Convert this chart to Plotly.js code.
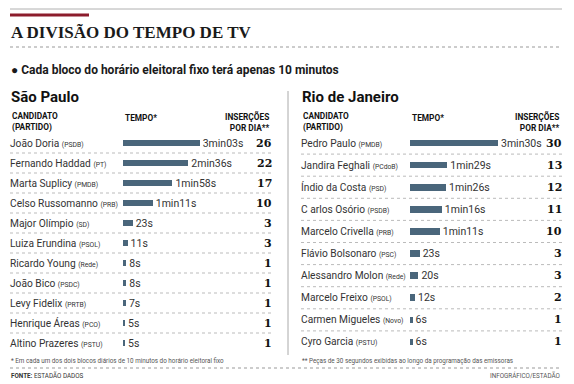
<!DOCTYPE html>
<html><head><meta charset="utf-8">
<script src="https://cdn.plot.ly/plotly-3.0.1.min.js"></script>
<style>html,body{margin:0;padding:0;background:#fff}</style>
</head><body><div id="chart" style="width:574px;height:384px"></div>
<script>
// ---- data ----
const spNames   = ["João Doria","Fernando Haddad","Marta Suplicy","Celso Russomanno","Major Olímpio","Luiza Erundina","Ricardo Young","João Bico","Levy Fidelix","Henrique Áreas","Altino Prazeres"];
const spParties = ["PSDB","PT","PMDB","PRB","SD","PSOL","Rede","PSDC","PRTB","PCO","PSTU"];
const spSeconds = [183,156,118,71,23,11,8,8,7,5,5];
const spTimes   = ["3min03s","2min36s","1min58s","1min11s","23s","11s","8s","8s","7s","5s","5s"];
const spInserts = [26,22,17,10,3,3,1,1,1,1,1];

const rjNames   = ["Pedro Paulo","Jandira Feghali","Índio da Costa","C arlos Osório","Marcelo Crivella","Flávio Bolsonaro","Alessandro Molon","Marcelo Freixo","Carmen Migueles","Cyro Garcia"];
const rjParties = ["PMDB","PCdoB","PSD","PSDB","PRB","PSC","Rede","PSOL","Novo","PSTU"];
const rjSeconds = [210,89,86,76,71,23,20,12,6,6];
const rjTimes   = ["3min30s","1min29s","1min26s","1min16s","1min11s","23s","20s","12s","6s","6s"];
const rjInserts = [30,13,12,11,10,3,3,2,1,1];

// ---- helpers ----
const W = 574, H = 384;
const px = x => x / W;
const py = y => 1 - y / H;
const BAR = "#4a667b";
const SANS = "Roboto, 'Open Sans', sans-serif";
const NUMF = "'DejaVu Serif', serif";

const traces = [
  {type:"bar", orientation:"h", y:spNames, x:spSeconds, xaxis:"x", yaxis:"y",
   marker:{color:BAR}, width:0.33, text:spTimes, textposition:"outside",
   constraintext:"none", cliponaxis:false, textfont:{family:SANS,size:10.5,color:"#333"},
   hoverinfo:"none"},
  {type:"bar", orientation:"h", y:rjNames, x:rjSeconds, xaxis:"x2", yaxis:"y2",
   marker:{color:BAR}, width:0.3, text:rjTimes, textposition:"outside",
   constraintext:"none", cliponaxis:false, textfont:{family:SANS,size:10.5,color:"#333"},
   hoverinfo:"none"}
];

const hid = {showgrid:false, zeroline:false, showticklabels:false, showline:false, ticks:"", fixedrange:true};
const layout = {
  width:W, height:H, margin:{l:0,r:0,t:0,b:0}, paper_bgcolor:"#fff", plot_bgcolor:"rgba(0,0,0,0)",
  showlegend:false, bargap:0,
  xaxis: Object.assign({domain:[px(123),px(273)], range:[0,358], anchor:"y"}, hid),
  yaxis: Object.assign({domain:[py(353),py(133)], type:"category", categoryarray:spNames, range:[10.5,-0.5], anchor:"x"}, hid),
  xaxis2: Object.assign({domain:[px(410),px(560)], range:[0,358], anchor:"y2"}, hid),
  yaxis2: Object.assign({domain:[py(353),py(132)], type:"category", categoryarray:rjNames, range:[9.5,-0.5], anchor:"x2"}, hid),
  shapes:[], annotations:[]
};

const S = layout.shapes, A = layout.annotations;
// decorative lines
S.push({type:"line", xref:"paper", yref:"paper", x0:px(10), x1:px(562), y0:py(9), y1:py(9), line:{color:"#b0b0b0", width:1}});
S.push({type:"line", xref:"paper", yref:"paper", x0:px(10), x1:px(89), y0:py(15), y1:py(15), line:{color:"#8c1c2c", width:3}});
S.push({type:"line", xref:"paper", yref:"paper", x0:px(10), x1:px(562), y0:py(47), y1:py(47), line:{color:"#999", width:1, dash:"dot"}});
S.push({type:"line", xref:"paper", yref:"paper", x0:px(288), x1:px(288), y0:py(91), y1:py(355), line:{color:"#aaa", width:1}});
S.push({type:"line", xref:"paper", yref:"paper", x0:px(10), x1:px(562), y0:py(368), y1:py(368), line:{color:"#999", width:1, dash:"dot"}});

// row separators
for (let i = 0; i < spNames.length - 1; i++)
  S.push({type:"line", xref:"paper", yref:"y", x0:px(10), x1:px(272), y0:i+0.5, y1:i+0.5, line:{color:"#bbb", width:1, dash:"dot"}});
for (let i = 0; i < rjNames.length - 1; i++)
  S.push({type:"line", xref:"paper", yref:"y2", x0:px(301), x1:px(562), y0:i+0.5, y1:i+0.5, line:{color:"#bbb", width:1, dash:"dot"}});

function txt(text, x, y, opts) {
  A.push(Object.assign({text, xref:"paper", yref:"paper", x:px(x), y:py(y), xanchor:"left", yanchor:"middle",
    showarrow:false, align:"left", font:{family:SANS, size:12, color:"#222"}}, opts||{}));
}
// titles
txt("<b>A DIVISÃO DO TEMPO DE TV</b>", 9, 32, {font:{family:"'Liberation Serif', serif", size:17, color:"#1a1a1a"}});
txt("<b>● Cada bloco do horário eleitoral fixo terá apenas 10 minutos</b>", 9, 70, {font:{family:SANS, size:12, color:"#1a1a1a"}});
txt("<b>São Paulo</b>", 9, 97, {font:{family:SANS, size:15, color:"#111"}});
txt("<b>Rio de Janeiro</b>", 300, 97, {font:{family:SANS, size:15, color:"#111"}});

// headers
const hf = {family:SANS, size:8.3, color:"#111"};
[[10,123,272],[301,410,562]].forEach(([c,t,r]) => {
  txt("<b>CANDIDATO<br>(PARTIDO)</b>", c, 122, {font:hf});
  txt("<b>TEMPO*</b>", t, 118, {font:hf});
  txt("<b>INSERÇÕES<br>POR DIA**</b>", r, 122, {font:hf, xanchor:"right", align:"right"});
});

// row labels
function rows(names, parties, inserts, yref, xName, xNum) {
  names.forEach((n, i) => {
    A.push({text:n + " <span style='font-size:6.8px'>(" + parties[i] + ")</span>", xref:"paper", yref:yref,
      x:px(xName), y:n, xanchor:"left", yanchor:"middle", showarrow:false,
      font:{family:SANS, size:10.2, color:"#333"}});
    A.push({text:"<b>" + inserts[i] + "</b>", xref:"paper", yref:yref,
      x:px(xNum), y:n, xanchor:"right", yanchor:"middle", showarrow:false,
      font:{family:NUMF, size:11, color:"#111"}});
  });
}
rows(spNames, spParties, spInserts, "y", 8, 274);
rows(rjNames, rjParties, rjInserts, "y2", 299, 564);

// footnotes
const ff = {family:SANS, size:6.3, color:"#555"};
txt("* Em cada um dos dois blocos diários de 10 minutos do horário eleitoral fixo", 9, 361, {font:ff});
txt("** Peças de 30 segundos exibidas ao longo da programação das emissoras", 300, 361, {font:ff});
txt("<b>FONTE:</b> ESTADÃO DADOS", 9, 375, {font:{family:SANS, size:6.3, color:"#333"}});
txt("INFOGRÁFICO/ESTADÃO", 562, 375, {font:ff, xanchor:"right", align:"right"});

Plotly.newPlot("chart", traces, layout, {staticPlot:true, displayModeBar:false});
</script></body></html>
